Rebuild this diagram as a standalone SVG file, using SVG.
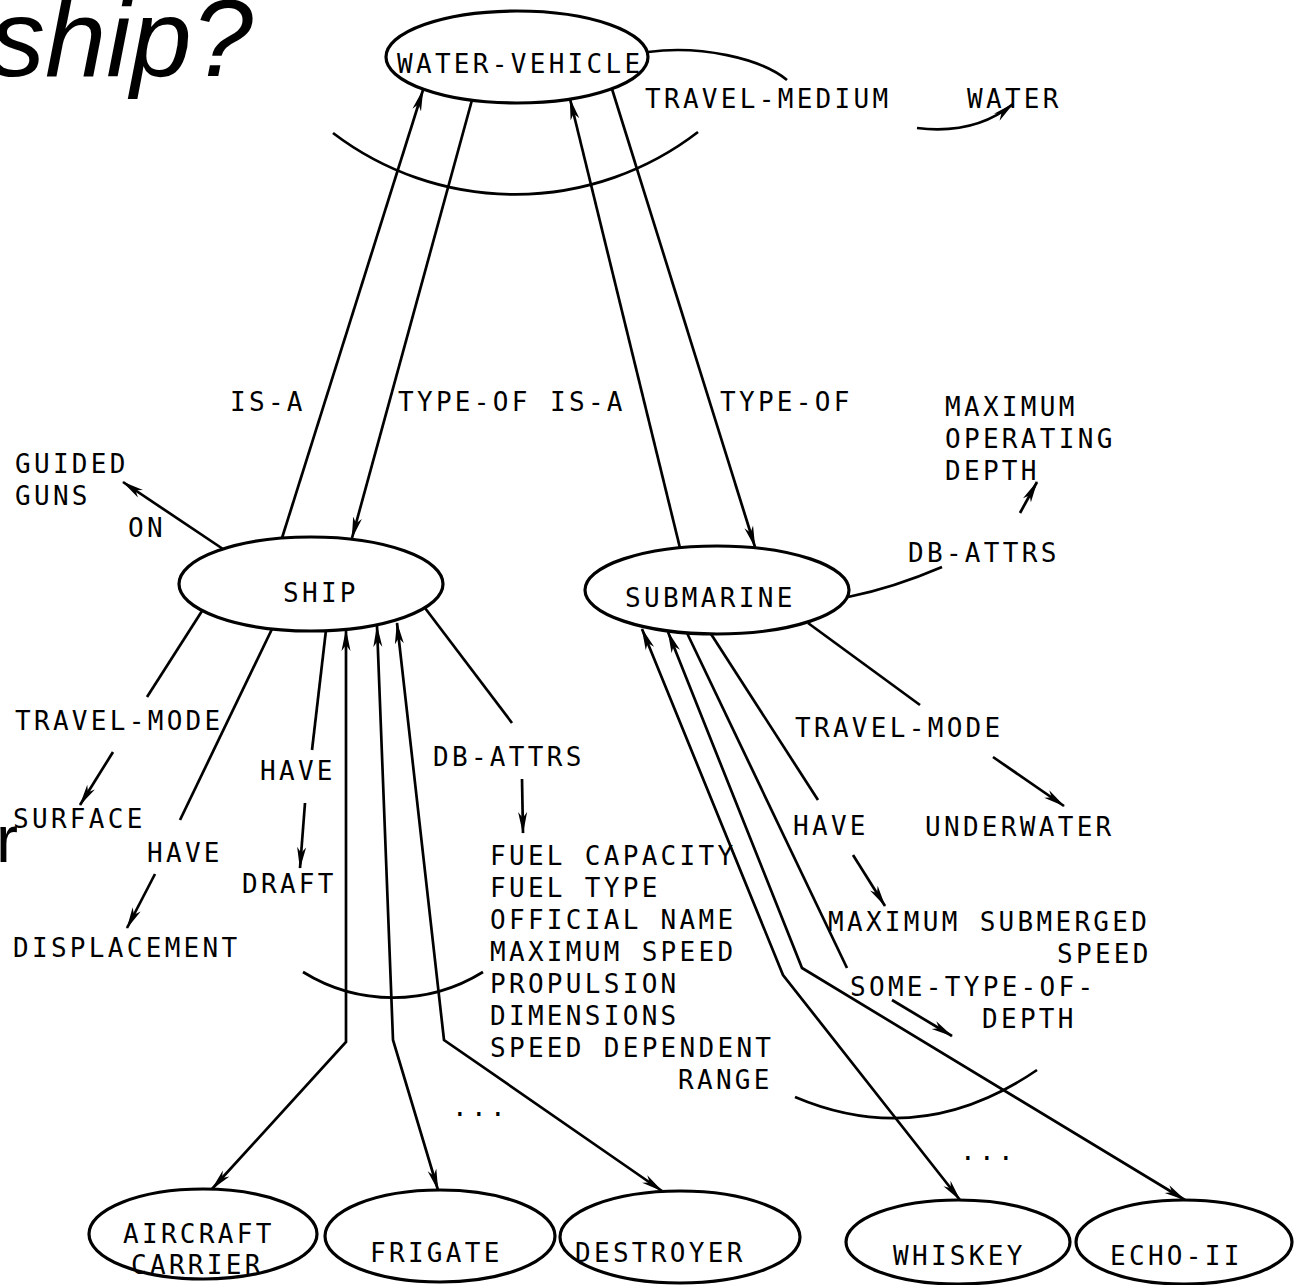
<svg xmlns="http://www.w3.org/2000/svg" width="1294" height="1285" viewBox="0 0 1294 1285">
<style>
.t{font-family:"DejaVu Sans Mono","Liberation Mono",monospace;font-size:26px;letter-spacing:3.3px;fill:#000}
.e{fill:none;stroke:#000;stroke-width:3.2}
.c{fill:none;stroke:#000;stroke-width:2.7}
.ti{font-family:"Liberation Sans",Arial,sans-serif;fill:#000}
</style>
<defs>
<marker id="ah" viewBox="0 0 22 11" refX="21" refY="5.5" markerWidth="22" markerHeight="11" markerUnits="userSpaceOnUse" orient="auto-start-reverse">
<path d="M0,1 L22,5.5 L0,10 L6,5.5 z" fill="#000"/>
</marker>
</defs>
<rect width="1294" height="1285" fill="#fff"/>

<text class="ti" x="-10" y="76" font-size="110" font-style="italic">ship?</text>
<text class="ti" x="-4" y="862" font-size="66">r</text>

<g id="connectors">
  <!-- WATER-VEHICLE links -->
  <path class="c" d="M282,538 L423,90" marker-end="url(#ah)"/>
  <path class="c" d="M472,100 L352,538" marker-end="url(#ah)"/>
  <path class="c" d="M680,548 L570,99" marker-end="url(#ah)"/>
  <path class="c" d="M612,89 L755,547" marker-end="url(#ah)"/>
  <path class="c" d="M333,133 A300,300 0 0 0 698,132"/>
  <path class="c" d="M648,52 C700,45 760,58 787,80"/>
  <path class="c" d="M917,128 Q975,135 1013,104" marker-end="url(#ah)"/>
  <!-- SHIP links -->
  <path class="c" d="M223,549 L123,482" marker-end="url(#ah)"/>
  <path class="c" d="M202,611 L147,697"/>
  <path class="c" d="M113,752 L80,805" marker-end="url(#ah)"/>
  <path class="c" d="M272,629 L180,820"/>
  <path class="c" d="M155,874 L127,928" marker-end="url(#ah)"/>
  <path class="c" d="M326,630 L312,750"/>
  <path class="c" d="M305,803 L300,868" marker-end="url(#ah)"/>
  <path class="c" d="M425,608 L512,723"/>
  <path class="c" d="M522,779 L523,833" marker-end="url(#ah)"/>
  <path class="c" d="M346,630 L346,1042 L212,1189" marker-start="url(#ah)" marker-end="url(#ah)"/>
  <path class="c" d="M377,626 L393,1040 L438,1190" marker-start="url(#ah)" marker-end="url(#ah)"/>
  <path class="c" d="M397,623 L444,1040 L662,1191" marker-start="url(#ah)" marker-end="url(#ah)"/>
  <path class="c" d="M303,972 A171,171 0 0 0 483,972"/>
  <!-- SUBMARINE links -->
  <path class="c" d="M848,597 Q893,588 942,567"/>
  <path class="c" d="M1020,513 L1037,482" marker-end="url(#ah)"/>
  <path class="c" d="M808,623 L920,705"/>
  <path class="c" d="M993,757 L1064,806" marker-end="url(#ah)"/>
  <path class="c" d="M711,634 L818,800"/>
  <path class="c" d="M853,855 L885,906" marker-end="url(#ah)"/>
  <path class="c" d="M687,633 L847,968"/>
  <path class="c" d="M892,1000 L952,1036" marker-end="url(#ah)"/>
  <path class="c" d="M642,629 L783,975 L960,1200" marker-start="url(#ah)" marker-end="url(#ah)"/>
  <path class="c" d="M668,632 L802,968 L1185,1200" marker-start="url(#ah)" marker-end="url(#ah)"/>
  <path class="c" d="M795,1097 Q920,1150 1037,1070"/>
  <!-- link labels -->
  <text class="t" x="230" y="411">IS-A</text>
  <text class="t" x="398" y="411">TYPE-OF</text>
  <text class="t" x="550" y="411">IS-A</text>
  <text class="t" x="720" y="411">TYPE-OF</text>
  <text class="t" x="645" y="108">TRAVEL-MEDIUM</text>
  <text class="t" x="128" y="537">ON</text>
  <text class="t" x="15" y="730">TRAVEL-MODE</text>
  <text class="t" x="147" y="862">HAVE</text>
  <text class="t" x="260" y="780">HAVE</text>
  <text class="t" x="433" y="766">DB-ATTRS</text>
  <text class="t" x="908" y="562">DB-ATTRS</text>
  <text class="t" x="795" y="737">TRAVEL-MODE</text>
  <text class="t" x="793" y="835">HAVE</text>
  <text class="t" x="850" y="996">SOME-TYPE-OF-</text>
  <text class="t" x="982" y="1028">DEPTH</text>
  <text class="t" x="452" y="1116" letter-spacing="12">...</text>
  <text class="t" x="960" y="1160" letter-spacing="12">...</text>
</g>

<g id="water-vehicle">
  <ellipse class="e" cx="517" cy="57" rx="131" ry="46"/>
  <text class="t" x="397" y="73">WATER-VEHICLE</text>
</g>
<g id="water"><text class="t" x="967" y="108">WATER</text></g>
<g id="ship">
  <ellipse class="e" cx="311" cy="584" rx="132" ry="47"/>
  <text class="t" x="283" y="602">SHIP</text>
</g>
<g id="submarine">
  <ellipse class="e" cx="717" cy="590" rx="132" ry="44"/>
  <text class="t" x="625" y="607">SUBMARINE</text>
</g>
<g id="guided-guns">
  <text class="t" x="15" y="473">GUIDED</text>
  <text class="t" x="15" y="505">GUNS</text>
</g>
<g id="surface"><text class="t" x="13" y="828">SURFACE</text></g>
<g id="displacement"><text class="t" x="13" y="957">DISPLACEMENT</text></g>
<g id="draft"><text class="t" x="242" y="893">DRAFT</text></g>
<g id="ship-attrs">
  <text class="t" x="490" y="865">FUEL CAPACITY</text>
  <text class="t" x="490" y="897">FUEL TYPE</text>
  <text class="t" x="490" y="929">OFFICIAL NAME</text>
  <text class="t" x="490" y="961">MAXIMUM SPEED</text>
  <text class="t" x="490" y="993">PROPULSION</text>
  <text class="t" x="490" y="1025">DIMENSIONS</text>
  <text class="t" x="490" y="1057">SPEED DEPENDENT</text>
  <text class="t" x="678" y="1089">RANGE</text>
</g>
<g id="max-operating-depth">
  <text class="t" x="945" y="416">MAXIMUM</text>
  <text class="t" x="945" y="448">OPERATING</text>
  <text class="t" x="945" y="480">DEPTH</text>
</g>
<g id="underwater"><text class="t" x="925" y="836">UNDERWATER</text></g>
<g id="max-submerged-speed">
  <text class="t" x="828" y="931">MAXIMUM SUBMERGED</text>
  <text class="t" x="1057" y="963">SPEED</text>
</g>
<g id="aircraft-carrier">
  <ellipse class="e" cx="203" cy="1234" rx="114" ry="45"/>
  <text class="t" x="123" y="1243">AIRCRAFT</text>
  <text class="t" x="131" y="1274">CARRIER</text>
</g>
<g id="frigate">
  <ellipse class="e" cx="440" cy="1236" rx="115" ry="46"/>
  <text class="t" x="370" y="1262">FRIGATE</text>
</g>
<g id="destroyer">
  <ellipse class="e" cx="680" cy="1237" rx="120" ry="46"/>
  <text class="t" x="575" y="1262">DESTROYER</text>
</g>
<g id="whiskey">
  <ellipse class="e" cx="958" cy="1242" rx="112" ry="42"/>
  <text class="t" x="893" y="1265">WHISKEY</text>
</g>
<g id="echo-ii">
  <ellipse class="e" cx="1184" cy="1242" rx="108" ry="42"/>
  <text class="t" x="1110" y="1265">ECHO-II</text>
</g>
</svg>
